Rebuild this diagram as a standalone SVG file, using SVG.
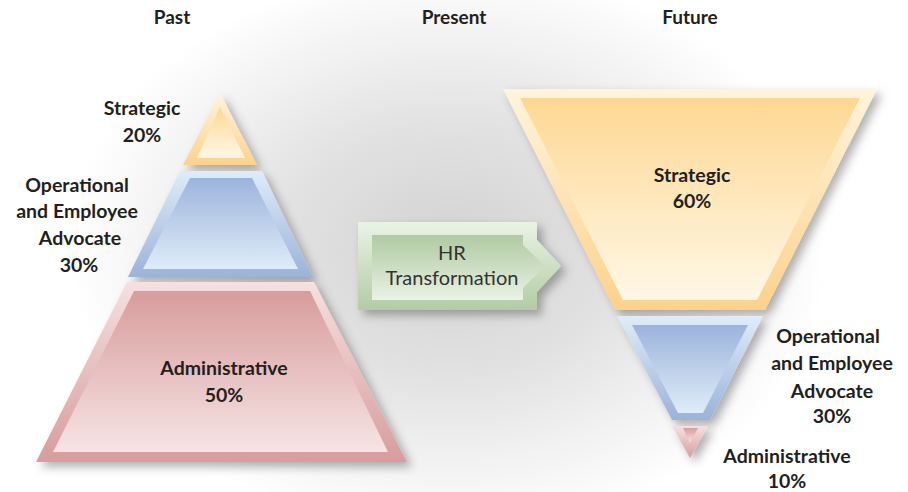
<svg xmlns="http://www.w3.org/2000/svg" width="908" height="492" viewBox="0 0 908 492">
<defs>
<radialGradient id="bg" cx="450" cy="250" r="380" gradientUnits="userSpaceOnUse" gradientTransform="translate(450 250) scale(1 0.75) translate(-450 -250)">
<stop offset="0" stop-color="#d2d2d2"/><stop offset="0.45" stop-color="#e2e2e2"/><stop offset="1" stop-color="#ffffff"/>
</radialGradient>
<linearGradient id="yO" x1="0" y1="0" x2="0" y2="1"><stop offset="0" stop-color="#fff4dc"/><stop offset="1" stop-color="#fcd28a"/></linearGradient>
<linearGradient id="yI" x1="0" y1="0" x2="0" y2="1"><stop offset="0" stop-color="#fdd893"/><stop offset="1" stop-color="#fff7e6"/></linearGradient>
<linearGradient id="bO" x1="0" y1="0" x2="0" y2="1"><stop offset="0" stop-color="#dfecf8"/><stop offset="1" stop-color="#9ab3da"/></linearGradient>
<linearGradient id="bI" x1="0" y1="0" x2="0" y2="1"><stop offset="0" stop-color="#9cb4dc"/><stop offset="1" stop-color="#dfecf8"/></linearGradient>
<linearGradient id="rO" x1="0" y1="0" x2="0" y2="1"><stop offset="0" stop-color="#f6e0e0"/><stop offset="1" stop-color="#d89c9c"/></linearGradient>
<linearGradient id="rI" x1="0" y1="0" x2="0" y2="1"><stop offset="0" stop-color="#d89c9c"/><stop offset="1" stop-color="#f6e4e4"/></linearGradient>
<linearGradient id="gO" x1="0" y1="0" x2="0" y2="1"><stop offset="0" stop-color="#eaf3e3"/><stop offset="1" stop-color="#b2cca4"/></linearGradient>
<linearGradient id="gI" x1="0" y1="0" x2="0" y2="1"><stop offset="0" stop-color="#b0caa2"/><stop offset="1" stop-color="#eaf2e4"/></linearGradient>
<filter id="sh" x="-20%" y="-20%" width="150%" height="150%">
<feDropShadow dx="5" dy="5" stdDeviation="5" flood-color="#000" flood-opacity="0.3"/>
</filter>
</defs>
<style>
.t{font-family:Lato,"Liberation Sans",sans-serif;font-weight:bold;font-size:19.5px;fill:#231f20;text-anchor:middle}
.h{font-family:Lato,"Liberation Sans",sans-serif;font-weight:bold;font-size:19px;fill:#231f20;text-anchor:middle}
.r{font-family:Lato,"Liberation Sans",sans-serif;font-size:20px;fill:#333;text-anchor:middle}
</style>
<rect width="908" height="492" fill="#fff"/>
<rect width="908" height="492" fill="url(#bg)"/>
<g id="headers">
<text class="h" x="172" y="24">Past</text>
<text class="h" x="454" y="24">Present</text>
<text class="h" x="690" y="24">Future</text>
</g>
<g id="past-strategic">
<polygon points="220,93 257,165 183,165" fill="url(#yO)" filter="url(#sh)"/>
<polygon points="220,107 245,158 197,158" fill="url(#yI)"/>
<text class="t" x="142" y="115">Strategic</text>
<text class="t" x="142" y="142">20%</text>
</g>
<g id="past-operational">
<polygon points="180,171 262,171 313,277 128,277" fill="url(#bO)" filter="url(#sh)"/>
<polygon points="190,178 252,178 298,269 143,269" fill="url(#bI)"/>
<text class="t" x="77" y="192">Operational</text>
<text class="t" x="77" y="218">and Employee</text>
<text class="t" x="80" y="245">Advocate</text>
<text class="t" x="79" y="272">30%</text>
</g>
<g id="past-administrative">
<polygon points="127,282 314,282 407,462 36,462" fill="url(#rO)" filter="url(#sh)"/>
<polygon points="134,291 310,291 388,452 53,452" fill="url(#rI)"/>
<text class="t" x="224" y="375">Administrative</text>
<text class="t" x="224" y="402">50%</text>
</g>
<g id="hr-transformation">
<polygon points="358,222 537,222 537,240 561,266 537,292 537,310 358,310" fill="url(#gO)" filter="url(#sh)"/>
<polygon points="372,235 523,235 523,245 545,266 523,288 523,300 372,300" fill="url(#gI)"/>
<text class="r" x="452" y="260">HR</text>
<text class="r" x="452" y="285">Transformation</text>
</g>
<g id="future-strategic">
<polygon points="503,89 877,89 765,310 615,310" fill="url(#yO)" filter="url(#sh)"/>
<polygon points="520,98 860,98 757,300 623,300" fill="url(#yI)"/>
<text class="t" x="692" y="182">Strategic</text>
<text class="t" x="692" y="208">60%</text>
</g>
<g id="future-operational">
<polygon points="617,316 763,316 710,420 672,420" fill="url(#bO)" filter="url(#sh)"/>
<polygon points="632,325 748,325 703,413 678,413" fill="url(#bI)"/>
<text class="t" x="828" y="343">Operational</text>
<text class="t" x="832" y="370">and Employee</text>
<text class="t" x="832" y="398">Advocate</text>
<text class="t" x="832" y="423">30%</text>
</g>
<g id="future-administrative">
<polygon points="672,426 708,426 690,458" fill="url(#rO)" filter="url(#sh)"/>
<polygon points="683,428 698,428 690,443" fill="url(#rI)"/>
<text class="t" x="787" y="463">Administrative</text>
<text class="t" x="787" y="488">10%</text>
</g>
<g id="connectors"/>
</svg>
